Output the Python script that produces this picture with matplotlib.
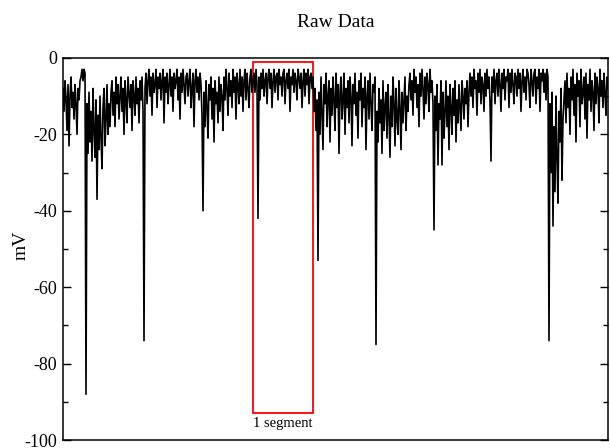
import numpy as np
import matplotlib
matplotlib.use("Agg")
import matplotlib.pyplot as plt
from matplotlib.patches import Rectangle
from matplotlib.ticker import MultipleLocator

plt.rcParams['font.family'] = ['Liberation Serif', 'DejaVu Serif']
plt.rcParams['axes.unicode_minus'] = False

# trace, roughly one sample per pixel column (mV)
before_segment = [
    -8, -14, -6, -11, -19, -7, -23, -10, -5, -13, -9, -16, -7, -12, -20, -8, -11, -6,
    -5, -3, -6, -3, -4,
    -88,
    -12, -25, -9, -22, -14, -27, -8, -19, -26, -11,
    -37, -15, -24, -10, -21, -29, -13, -8, -23, -16,
    -7, -20, -12, -18, -9,
    -6, -15, -9, -18, -5, -12, -7, -16, -10, -5,
    -14, -8, -20, -6, -11, -17, -5, -9, -13, -7,
    -19, -6, -10, -15, -5, -12, -8, -17, -6, -11,
    -5, -14,
    -74,
    -8, -4, -12, -6, -3, -10, -5, -15, -4, -9,
    -7, -3, -13, -5, -8, -4, -11, -6, -3, -17,
    -5, -9, -4, -12, -7, -3, -10, -5, -14, -4,
    -8, -6, -3, -11, -5, -16, -4, -9, -3, -7,
    -12, -5, -4, -10, -6, -3, -13, -8, -4, -18,
    -6, -3, -9, -5, -11, -4, -7, -15,
    -40,
    -9, -18, -6, -13, -21, -7, -11, -5, -16, -8,
    -22, -6, -12, -9, -17, -5, -14, -7, -10, -19,
    -5, -11, -3, -8, -15, -4, -10, -6, -13, -3,
    -9, -5, -16, -4, -7, -12, -3, -10, -5, -14,
    -6, -3, -11, -4, -8, -13, -5, -3, -9,
]

segment = [
    -6, -4, -9, -3, -7, -42, -5, -11, -4, -8,
    -3, -10, -6, -4, -12, -5, -3, -8, -4, -13,
    -6, -3, -9, -5, -4, -11, -3, -7, -5, -10,
    -4, -3, -12, -6, -4, -8, -3, -14, -5, -7,
    -3, -9, -4, -6, -11, -3, -5, -8, -4, -13,
    -6, -3, -10, -4, -7, -3, -12, -5, -4, -8,
]

after_segment = [
    -5, -14, -8, -19, -11,
    -53,
    -9, -20, -5, -14, -24, -7, -12, -4, -18, -10,
    -6, -22, -8, -15, -5, -11, -19, -4, -13, -7,
    -25, -9, -5, -16, -11, -4, -20, -8, -13, -6,
    -17, -5, -10, -23, -7, -12, -4, -15, -9, -21,
    -6, -11, -4, -18, -8, -13, -5, -24, -10, -6,
    -16, -4, -12, -19, -7, -9, -5,
    -75,
    -14, -22, -8, -17, -11, -25, -6, -19, -13, -9,
    -21, -7, -15, -26, -10, -18, -5, -12, -23, -8,
    -16, -20, -6, -13, -24, -9, -17, -11, -5, -19,
    -10, -14, -7,
    -4, -11, -6, -15, -3, -9, -5, -13, -7, -18,
    -4, -10, -3, -8, -16, -5, -12, -4, -7, -14,
    -3, -9, -6, -12,
    -45,
    -10, -19, -7, -28, -12, -16, -6, -28, -9, -21,
    -14, -6, -18, -10, -24, -7, -13, -20, -8, -15,
    -6, -22, -11, -17, -7, -13, -19, -6, -10, -16,
    -8, -12, -6, -18, -9,
    -4, -10, -5, -13, -3, -8, -6, -15, -4, -9,
    -3, -12, -5, -7, -14, -4, -10, -3, -8, -5,
    -11,
    -27,
    -5, -9, -3, -12, -6, -4, -10, -3, -7, -14,
    -4, -8, -3, -11, -5, -6, -3, -13, -4, -9,
    -3, -7, -12, -4, -5, -10, -3, -8, -4, -14,
    -6, -3, -9, -5, -11, -3, -4, -7, -13, -3,
    -6, -10, -4, -3, -12, -5, -8, -3, -14, -4,
    -6, -3, -9, -4, -11, -3, -5,
    -74,
    -12, -30, -9, -44, -18, -35, -10, -26, -38, -14,
    -22, -8, -32, -16, -11,
    -6, -17, -4, -13, -8, -20, -5, -11, -3, -15,
    -7, -22, -4, -10, -6, -18, -3, -12, -9, -5,
    -16, -4, -21, -7, -11, -3, -14, -6, -9, -19,
    -4, -12, -5, -8, -17, -3, -10, -6, -13, -4,
    -9, -15, -5, -8,
]

box_top, box_bottom = -1, -93
y_ticks = [0, -20, -40, -60, -80, -100]

trace = np.array(before_segment + segment + after_segment, dtype=float)
t = np.arange(len(trace))
seg_start = len(before_segment)
seg_end = seg_start + len(segment)

fig = plt.figure(figsize=(6.1, 4.48), dpi=100)
ax = fig.add_axes([0.1033, 0.0178, 0.8934, 0.853])

ax.plot(t, trace, color='black', lw=1.2)

rect = Rectangle((seg_start, box_bottom), seg_end - seg_start, box_top - box_bottom,
                 fill=False, edgecolor='red', lw=1.3)
ax.add_patch(rect)
ax.text((seg_start + seg_end) / 2, box_bottom - 2.6, '1 segment',
        ha='center', va='center', fontsize=10.5)

ax.set_xlim(0, len(trace) - 1)
ax.set_ylim(-100, 0)
ax.set_yticks(y_ticks)
ax.set_yticklabels([str(v) for v in y_ticks])
ax.yaxis.set_minor_locator(MultipleLocator(10))
ax.set_xticks([])
ax.tick_params(axis='y', which='both', direction='in', left=True, right=True,
               labelsize=13, pad=4.5, width=1)
ax.tick_params(axis='y', which='major', length=6)
ax.tick_params(axis='y', which='minor', length=3.5)
for s in ax.spines.values():
    s.set_linewidth(1.1)

ax.set_ylabel('mV', fontsize=14)
ax.yaxis.set_label_coords(-0.062, 0.51)
ax.set_title('Raw Data', fontsize=14, pad=22)

fig.savefig('out.png', dpi=100)
